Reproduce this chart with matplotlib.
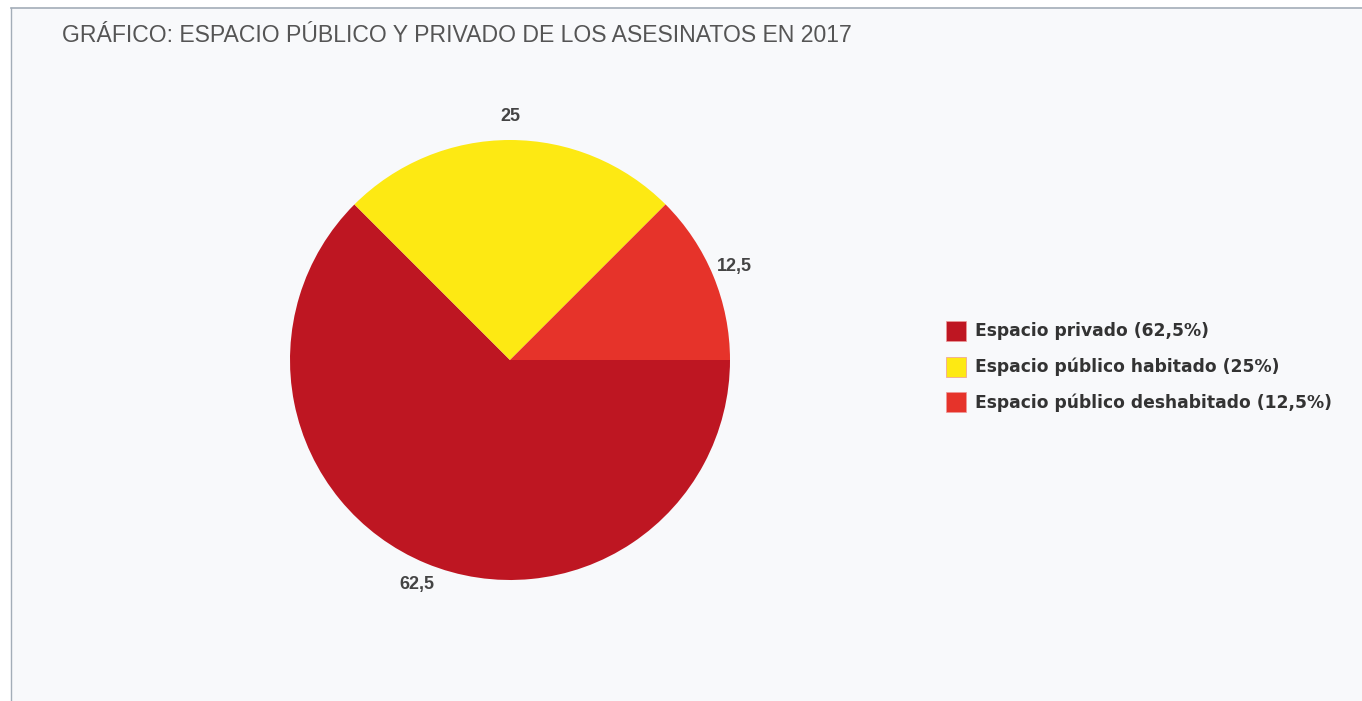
import matplotlib
matplotlib.use("Agg")
import matplotlib.pyplot as plt
from matplotlib.patches import Rectangle

title = "GRÁFICO: ESPACIO PÚBLICO Y PRIVADO DE LOS ASESINATOS EN 2017"
categories = ["Espacio privado", "Espacio público habitado", "Espacio público deshabitado"]
values = [62.5, 25, 12.5]
value_labels = ["62,5", "25", "12,5"]
legend_labels = ["Espacio privado (62,5%)", "Espacio público habitado (25%)",
                 "Espacio público deshabitado (12,5%)"]
colors = ["#BE1622", "#FDE913", "#E6332A"]

W, H = 1362, 701
fig = plt.figure(figsize=(W / 100, H / 100), dpi=100)
fig.patch.set_facecolor("white")

# panel background and border
bgax = fig.add_axes([0, 0, 1, 1], zorder=-5)
bgax.set_xlim(0, W)
bgax.set_ylim(H, 0)
bgax.axis("off")
bgax.add_patch(Rectangle((11, 8), W - 11, H - 8, facecolor="#F8F9FB", edgecolor="none"))
bgax.plot([11, W], [8, 8], color="#A3ADB8", lw=1.2)
bgax.plot([11, 11], [8, H], color="#A3ADB8", lw=1.0)

fig.text(62 / W, 1 - 36 / H, title, fontsize=16.6, color="#555555",
         family="Liberation Sans", va="center", ha="left")

cx, cy, r = 510, 360, 220
ax = fig.add_axes([(cx - r) / W, (H - cy - r) / H, 2 * r / W, 2 * r / H], zorder=2)
ax.set_facecolor("none")
wedges, texts = ax.pie(values, colors=colors, startangle=0, counterclock=False,
                       labels=value_labels, labeldistance=1.105,
                       wedgeprops=dict(linewidth=0))
for t in texts:
    t.set_ha("center")
    t.set_va("center")
    t.set_fontsize(13)
    t.set_fontweight("bold")
    t.set_color("#444444")
    t.set_family("Liberation Sans")
ax.set_xlim(-1, 1)
ax.set_ylim(-1, 1)
ax.set_aspect("equal")

# legend
lx, ly0, dy = 946, 321, 35.5
for i, (lab, c) in enumerate(zip(legend_labels, colors)):
    y = ly0 + i * dy
    bgax.add_patch(Rectangle((lx, y), 20, 20, facecolor=c, edgecolor="#EE9999", lw=0.5))
    bgax.text(975, y + 10.5, lab, fontsize=12.3, fontweight="bold",
              color="#333333", family="DejaVu Sans", va="center", ha="left")

fig.savefig("out.png", dpi=100, facecolor="white")
